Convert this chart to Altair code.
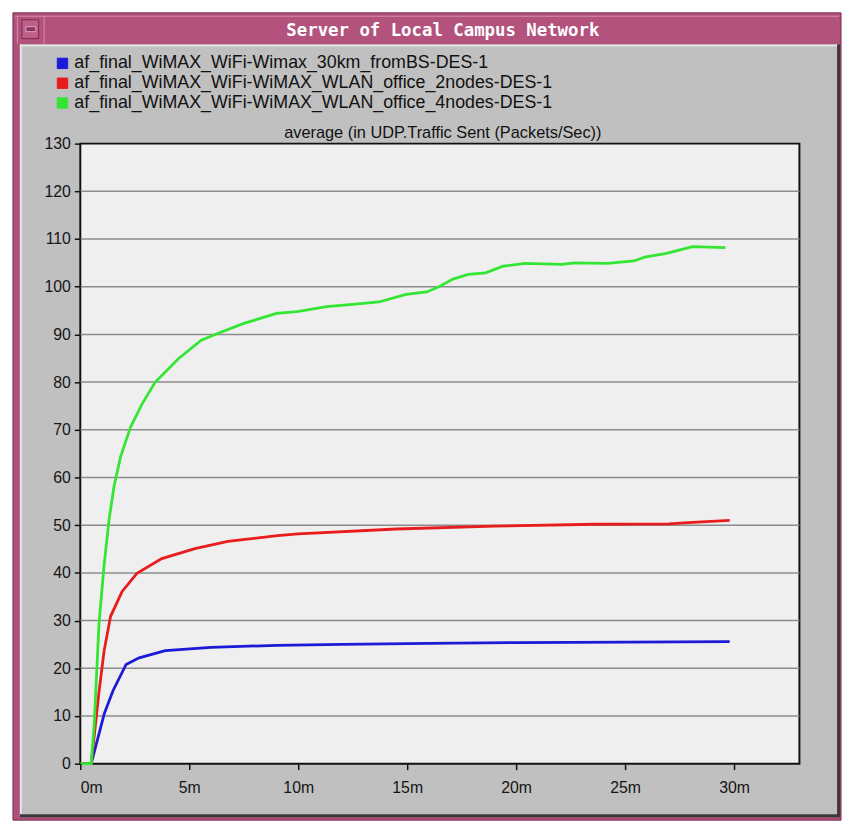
import altair as alt
import pandas as pd

# ---------------- data ----------------
series = [
    "af_final_WiMAX_WiFi-Wimax_30km_fromBS-DES-1",
    "af_final_WiMAX_WiFi-WiMAX_WLAN_office_2nodes-DES-1",
    "af_final_WiMAX_WiFi-WiMAX_WLAN_office_4nodes-DES-1",
]
colors = ["#1a1ad8", "#e81c1c", "#33e633"]

blue_t = [0, 0.5, 1.1, 1.5, 2.1, 2.7, 3.9, 6.0, 9.0, 12.0, 16.0, 20.0, 25.0, 29.8]
blue_v = [0, 0, 10.5, 15.3, 20.8, 22.2, 23.7, 24.4, 24.8, 25.0, 25.2, 25.4, 25.5, 25.6]

red_t = [0, 0.5, 0.86, 1.09, 1.39, 1.92, 2.6, 3.74, 5.26, 6.77, 9.05, 10.0, 14.5, 19.0, 23.6, 27.0, 28.1, 29.8]
red_v = [0, 0, 15.1, 23.6, 30.9, 36.1, 39.9, 43.0, 45.1, 46.6, 47.8, 48.2, 49.2, 49.8, 50.2, 50.3, 50.6, 51.0]

green_t = [0, 0.5, 0.64, 0.86, 1.09, 1.32, 1.55, 1.85, 2.3, 2.83, 3.44, 4.5, 5.55, 6.3, 7.5, 9.0,
           9.95, 11.3, 12.5, 13.7, 14.95, 15.9, 16.5, 17.1, 17.8, 18.6, 19.4, 20.4, 22.1, 22.7,
           24.2, 25.4, 25.9, 26.9, 28.1, 29.6]
green_v = [0, 0, 8.5, 29.5, 41.5, 51.2, 58.2, 64.4, 70.5, 75.4, 80.0, 84.9, 88.8, 90.2, 92.3, 94.4,
           94.8, 95.8, 96.3, 96.8, 98.4, 98.9, 100.1, 101.6, 102.6, 102.9, 104.3, 104.9, 104.7, 105.0,
           104.9, 105.4, 106.2, 107.0, 108.4, 108.2]

y_ticks = list(range(0, 131, 10))
x_ticks = [0, 5, 10, 15, 20, 25, 30]
x_domain = [0, 33]
y_domain = [0, 130]

window_title = "Server of Local Campus Network"
plot_title = "average (in UDP.Traffic Sent (Packets/Sec))"

rows = []
for name, ts, vs in [(series[0], blue_t, blue_v),
                     (series[1], red_t, red_v),
                     (series[2], green_t, green_v)]:
    for t, v in zip(ts, vs):
        rows.append({"series": name, "t": t, "v": v})
df = pd.DataFrame(rows)
grid_df = pd.DataFrame({"v": y_ticks[1:-1]})
one = pd.DataFrame({"k": [0]})

W, H = 726, 626
FONT = "Liberation Sans"

xscale = alt.Scale(domain=x_domain, nice=False, zero=False)
yscale = alt.Scale(domain=y_domain, nice=False)
color_scale = alt.Scale(domain=series, range=colors)

xaxis = alt.Axis(values=x_ticks, labelExpr="datum.value + 'm'", grid=False, domain=False,
                 tickSize=6, tickColor="#111", tickWidth=1.5, labelFontSize=16, labelFont=FONT,
                 labelColor="#151515", labelPadding=10, title=None, zindex=1)
yaxis = alt.Axis(values=y_ticks, grid=False, domain=False, tickSize=6, tickColor="#111",
                 tickWidth=1.5, labelFontSize=16, labelFont=FONT, labelColor="#151515",
                 labelPadding=4, title=None, zindex=1)

legend = alt.Legend(title=None, orient="none", legendX=-27, legendY=-90,
                    symbolType="square", symbolSize=110,
                    symbolStrokeColor="black", symbolStrokeWidth=1,
                    labelFontSize=18, labelFont=FONT, labelColor="#111",
                    rowPadding=2, labelOffset=3, padding=0, labelLimit=0)


def box(x, x2, y, y2, fill, stroke=None, sw=0.0):
    kw = dict(fill=fill)
    if stroke:
        kw.update(stroke=stroke, strokeWidth=sw)
    return alt.Chart(one).mark_rect(**kw).encode(
        x=alt.value(x), x2=alt.value(x2), y=alt.value(y), y2=alt.value(y2))


# window decoration (pixel offsets relative to the plot origin)
decor = [
    box(-68, 768, -132, 683, "#b0507a", "#7a2a50", 1),      # pink frame
    box(-66, 766, -129, -101, "#b3527d"),                  # title bar
    box(-66, 766, -129, -128, "#d88aac"),                  # highlight top
    box(-64, -63, -129, -101, "#d88aac"),                  # highlight left
    box(-37, -36, -129, -101, "#d88aac"),                  # separator
    box(-59, -42, -125, -106, "#c0608a", "#7a2a50", 1),    # minus button
    box(-55, -45, -118, -113, "#8a3660", "#e0a0c0", 1),    # minus bar
    box(-61, 765, -100, 679, "#c0c0c0"),                   # gray client area
    box(-61, 765, -100, -98, "#e4e4e4"),                   # light top edge
    box(-61, -59, -100, 679, "#e4e4e4"),                   # light left edge
    box(764, 767, -100, 680, "#3a3a3a"),                   # dark right edge
    box(-61, 767, 677, 680, "#3a3a3a"),                    # dark bottom edge
    box(0, W, 0, H, "#efefef", "#111111", 2),               # plot background
]

title_text = alt.Chart(one).mark_text(
    text=window_title, font="DejaVu Sans Mono", fontWeight="bold", fontSize=17.5,
    color="white", align="center", baseline="middle"
).encode(x=alt.value(366), y=alt.value(-114))

sub_text = alt.Chart(one).mark_text(
    text=plot_title, font=FONT, fontSize=16.5, color="#111",
    align="center", baseline="middle"
).encode(x=alt.value(366), y=alt.value(-11))

legend_layer = alt.Chart(df).mark_square(filled=True, size=100, opacity=1).encode(
    color=alt.Color("series:N", scale=color_scale, sort=series, legend=legend)
).transform_filter("false")

grid = alt.Chart(grid_df).mark_rule(color="#8c8c8c", strokeWidth=1.5).encode(
    y=alt.Y("v:Q", scale=yscale, axis=yaxis)
)

lines = alt.Chart(df).mark_line(strokeWidth=2.8).encode(
    x=alt.X("t:Q", scale=xscale, axis=xaxis),
    y=alt.Y("v:Q", scale=yscale, axis=yaxis),
    color=alt.Color("series:N", scale=color_scale, sort=series, legend=legend),
    detail="series:N",
)

chart = alt.layer(*decor, title_text, sub_text, legend_layer, grid, lines).properties(
    width=W, height=H,
    padding={"left": 73, "top": 133, "right": 44, "bottom": 59},
    autosize=alt.AutoSizeParams(type="none"),
).configure_view(stroke=None).configure(background="white")

chart.save("out.html", embed_options={"renderer": "svg", "actions": False})
